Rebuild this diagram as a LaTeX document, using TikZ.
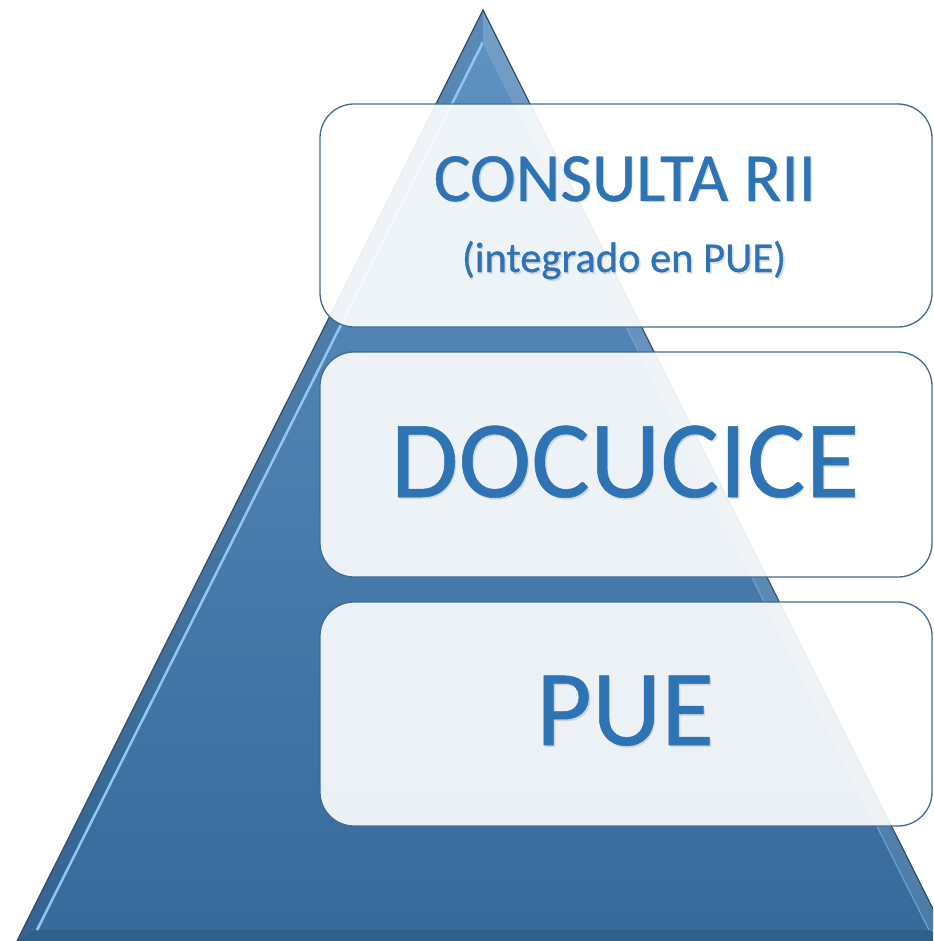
\documentclass[tikz,border=0pt]{standalone}
\usepackage{fontspec}
\setmainfont{Carlito}
\definecolor{txtblue}{HTML}{2E74B5}
\definecolor{tritop}{HTML}{6092C2}
\definecolor{tribot}{HTML}{366A9A}
\definecolor{triline}{HTML}{2E4D6B}
\definecolor{hilite}{HTML}{92C6F3}
\definecolor{boxline}{HTML}{3E6A94}
\newcommand{\heavytxt}[2]{\special{pdf:literal direct 2 Tr #1 w}#2\special{pdf:literal direct 0 Tr}}
\tikzset{
  panel/.style={draw=boxline, line width=1.3pt, rounded corners=34pt, fill=white, fill opacity=0.9, text opacity=1, minimum width=612pt, inner sep=0pt},
  label/.style={text=txtblue, anchor=base, inner sep=0pt},
  shadowtxt/.style={text=black, text opacity=0.12, anchor=base, inner sep=0pt}
}
\begin{document}
\begin{tikzpicture}[x=1pt,y=-1pt]
\useasboundingbox (0,0) rectangle (933,941);
\clip (0,0) rectangle (933,941);
% pyramid
\coordinate (apex) at (483,10);
\coordinate (bl) at (17,941);
\coordinate (br) at (949,941);
\coordinate (iapex) at (483,42);
\coordinate (ibl) at (37,930);
\coordinate (ibr) at (929,930);
\shade[top color=tritop, bottom color=tribot] (apex) -- (bl) -- (br) -- cycle;
% right bevel facet (lighter)
\fill[white, opacity=0.12] (apex) -- (br) -- (ibr) -- (iapex) -- cycle;
% bottom bevel facet (darker)
\fill[black, opacity=0.10] (bl) -- (br) -- (ibr) -- (ibl) -- cycle;
% left facet
\fill[black, opacity=0.05] (apex) -- (bl) -- (ibl) -- (iapex) -- cycle;
\draw[hilite, line width=2.5pt] (iapex) -- (ibl);
\draw[hilite!60!tribot, line width=1.2pt] (iapex) -- (ibr);
\draw[triline, line width=1.2pt] (bl) -- (apex) -- (br);
% panels
\node[panel, minimum height=223pt] (p1) at (626,215.5) {};
\node[panel, minimum height=225pt] (p2) at (626,464.5) {};
\node[panel, minimum height=224pt] (p3) at (626,714) {};
% texts (with soft drop shadow)
\node[shadowtxt, font=\fontsize{69}{72}\selectfont] (s1) at (627,203) {CONSULTA RII};
\node[label, font=\fontsize{69}{72}\selectfont] (t1) at (625,201) {\heavytxt{0.4}{CONSULTA RII}};
\node[shadowtxt, font=\fontsize{42.5}{46}\selectfont] (s2) at (626,274) {(integrado en PUE)};
\node[label, font=\fontsize{42.5}{46}\selectfont] (t2) at (624,272) {\heavytxt{0.3}{(integrado en PUE)}};
\node[shadowtxt, font=\fontsize{110}{114}\selectfont] (s3) at (627,499) {DOCUCICE};
\node[label, font=\fontsize{110}{114}\selectfont] (t3) at (625,497) {\heavytxt{0.5}{DOCUCICE}};
\node[shadowtxt, font=\fontsize{108}{111}\selectfont] (s4) at (627,747) {PUE};
\node[label, font=\fontsize{108}{111}\selectfont] (t4) at (625,745) {\heavytxt{0.5}{PUE}};
\end{tikzpicture}
\end{document}
